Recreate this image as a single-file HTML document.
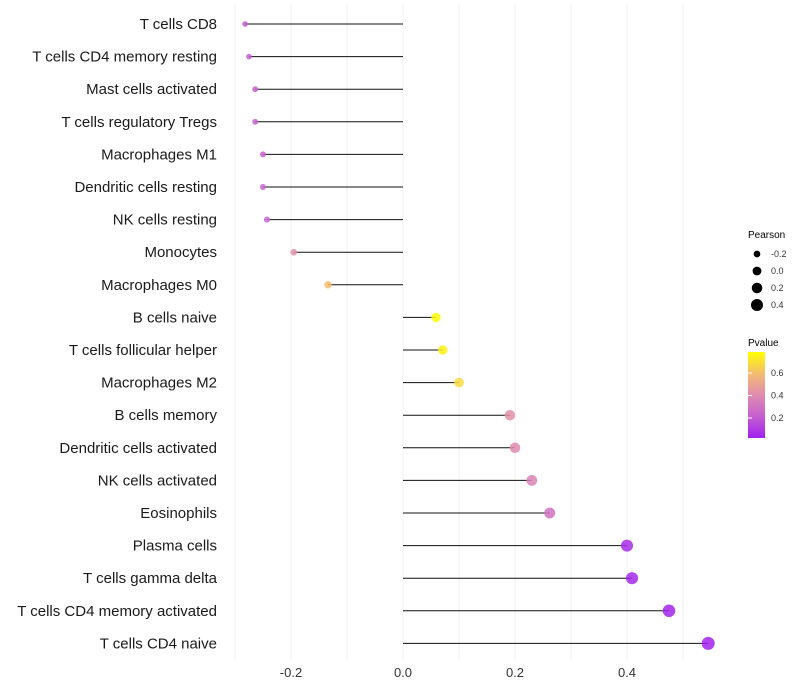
<!DOCTYPE html>
<html><head><meta charset="utf-8"><style>
body{margin:0;background:#fff;font-family:"Liberation Sans",sans-serif;}
</style></head><body>
<svg id="chart" width="800" height="700" xmlns="http://www.w3.org/2000/svg" style="display:block">
<defs><linearGradient id="pg" x1="0" y1="1" x2="0" y2="0">
<stop offset="0" stop-color="#A020F0"/><stop offset="0.25" stop-color="#C55FD0"/><stop offset="0.5" stop-color="#E08CB0"/><stop offset="0.75" stop-color="#F4BC70"/><stop offset="1" stop-color="#FFFF00"/></linearGradient></defs>
<g id="grid"></g>
<g id="marks"></g>
<g id="ylabels"></g>
<g id="xlabels"></g>
<g font-size="9">
<text x="748" y="238" font-size="10" fill="#000">Pearson</text>
<g id="sizeleg"></g>
</g>
<g>
<text x="748" y="346" font-size="10" fill="#000">Pvalue</text>
<rect x="748" y="352" width="17" height="86" fill="url(#pg)"/>
<g id="cbticks"></g>
</g>
</svg>
<script>
const categories=["T cells CD8","T cells CD4 memory resting","Mast cells activated","T cells regulatory  Tregs ","Macrophages M1","Dendritic cells resting","NK cells resting","Monocytes","Macrophages M0","B cells naive","T cells follicular helper","Macrophages M2","B cells memory","Dendritic cells activated","NK cells activated","Eosinophils","Plasma cells","T cells gamma delta","T cells CD4 memory activated","T cells CD4 naive"];
const pearson=[-0.282,-0.275,-0.264,-0.264,-0.25,-0.25,-0.243,-0.195,-0.134,0.059,0.071,0.1,0.191,0.2,0.23,0.262,0.4,0.409,0.475,0.545];
const pvalue=[0.2,0.21,0.22,0.22,0.23,0.23,0.24,0.42,0.6,0.78,0.75,0.68,0.43,0.41,0.36,0.3,0.06,0.05,0.04,0.03];
const xTicks=[-0.2,0,0.2,0.4];
const xTickLabels=["-0.2","0.0","0.2","0.4"];
const minorTicks=[-0.3,-0.1,0.1,0.3,0.5];
const sizeLegend=[-0.2,0,0.2,0.4];
const cbTicks=[0.2,0.4,0.6];
const ns="http://www.w3.org/2000/svg";
const X=v=>403+v*560;
const Y=i=>24+i*32.6;
const R=v=>Math.sqrt(Math.max(3,19.5+42*v));
const CB=p=>438-(p-0.022)/(0.787-0.022)*86;
const stops=[[0,[160,32,240]],[0.25,[197,95,208]],[0.5,[224,140,176]],[0.75,[244,188,112]],[1,[255,255,0]]];
function col(p){let t=Math.min(1,Math.max(0,(p-0.022)/(0.787-0.022)));for(let k=1;k<stops.length;k++){if(t<=stops[k][0]){const a=stops[k-1],b=stops[k],f=(t-a[0])/(b[0]-a[0]);return "rgb("+a[1].map((c,j)=>Math.round(c+(b[1][j]-c)*f)).join(",")+")";}}return "rgb(255,255,0)";}
function mk(tag,attrs,parent){const e=document.createElementNS(ns,tag);for(const k in attrs)e.setAttribute(k,attrs[k]);document.getElementById(parent).appendChild(e);return e;}
minorTicks.concat(xTicks).forEach(v=>{const l=mk("line",{x1:X(v),x2:X(v),y1:5,y2:660,stroke:"#f2f2f2","stroke-width":1},"grid");

});
xTicks.forEach((v,i)=>{const t=mk("text",{x:X(v),y:677,"text-anchor":"middle","font-size":13,fill:"#333"},"xlabels");t.textContent=xTickLabels[i];

});
categories.forEach((c,i)=>{const y=Y(i);
const t=mk("text",{x:217,y:y+5,"text-anchor":"end","font-size":15,fill:"#1a1a1a"},"ylabels");t.textContent=c;


const l=mk("line",{x1:X(0),x2:X(pearson[i]),y1:y,y2:y,stroke:"#111","stroke-width":1},"marks");


const d=mk("circle",{cx:X(pearson[i]),cy:y,r:R(pearson[i]),fill:col(pvalue[i]),"fill-opacity":0.85},"marks");

});
sizeLegend.forEach((v,i)=>{const y=254+i*17;
const c=mk("circle",{cx:757,cy:y,r:R(v),fill:"#000"},"sizeleg");


const t=mk("text",{x:771,y:y+3,"font-size":9,fill:"#333"},"sizeleg");t.textContent=v===0?"0.0":v.toFixed(1);

});
cbTicks.forEach(p=>{const y=CB(p);
const l=mk("line",{x1:748,x2:752,y1:y,y2:y,stroke:"#fff","stroke-width":1},"cbticks");


const t=mk("text",{x:771,y:y+3,"font-size":9,fill:"#333"},"cbticks");t.textContent=p.toFixed(1);

});
</script>
</body></html>
